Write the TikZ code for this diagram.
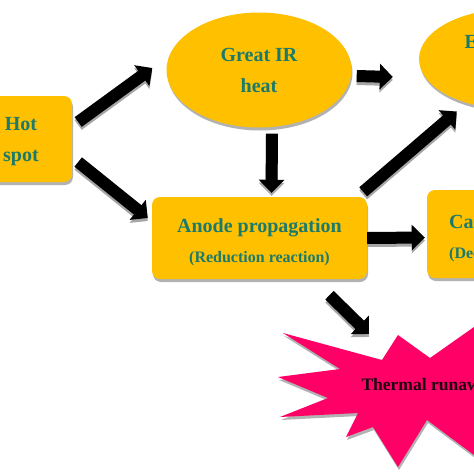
\documentclass[tikz,border=0pt]{standalone}
\usepackage{fontspec}
\setmainfont{Liberation Serif}
\definecolor{hotgold}{HTML}{FFC000}
\definecolor{heatteal}{HTML}{1B7A6A}
\definecolor{burstpink}{HTML}{FF0066}
\definecolor{burstink}{HTML}{1E0010}
\usetikzlibrary{shapes,arrows.meta,positioning,calc,shadows}

\newcommand{\bigtxt}{\fontsize{20}{31}\selectfont\bfseries}
\newcommand{\smalltxt}{\fontsize{16}{18}\selectfont\bfseries}
\newcommand{\fatarrow}[2]{%
  \draw[arrowshade] #1 -- #2;
  \draw[arrowbody] #1 -- #2;}

\begin{document}
\begin{tikzpicture}[x=1pt,y=-1pt,
  stepshade/.style={drop shadow={shadow xshift=1pt,shadow yshift=-3pt,opacity=1,fill=black!30}},
  goldbox/.style={rectangle, rounded corners=8pt, fill=hotgold, stepshade, text=heatteal, font=\bigtxt, align=center},
  goldoval/.style={ellipse, fill=hotgold, stepshade, text=heatteal, font=\bigtxt, align=center, inner sep=0pt},
  boxtext/.style={text=heatteal, font=\bigtxt, inner sep=0pt},
  arrowbody/.style={black, line width=12pt, -{Triangle[width=25pt,length=13pt]}},
  arrowshade/.style={black!35, line width=12pt, -{Triangle[width=25pt,length=13pt]}, transform canvas={yshift=-3pt}}]
\useasboundingbox (0,0) rectangle (474,474);
\clip (0,0) rectangle (474,474);

% Boxes and ovals
\node[goldbox, minimum width=102pt, minimum height=86pt, text depth=-1.7pt] (hotspot) at (21,139) {Hot\\spot};
\node[goldoval, minimum width=185pt, minimum height=115pt] (greatir) at (259,70) {Great IR\\heat};
\node[goldoval, minimum width=184pt, minimum height=100pt] (electro) at (511,59) {Electrolyte\\Burning};
\node[goldbox, minimum width=215pt, minimum height=82pt] (anode) at (259.5,238) {};
\node[boxtext, align=center] (anodetext) at (259.5,242.5)
  {Anode propagation\\[-1pt]{\smalltxt (Reduction reaction)}};
\node[goldbox, minimum width=174pt, minimum height=88pt] (cathode) at (514,234) {};
\node[boxtext, align=left, anchor=west] (cathodetext) at (449,238.5)
  {Cathode\\[-1pt]{\smalltxt (Decomposition)}};

% Thermal runaway burst
\fill[burstpink, stepshade] (398,335) -- (430,358) -- (474,327) -- (520,360) -- (520,450) -- (474,455)
  -- (427,420) -- (398,467) -- (373,427) -- (346,437) -- (358,413) -- (280,417) -- (328,398)
  -- (278,377) -- (340,369) -- (283,333) -- (382,360) -- cycle;
\node[anchor=west, font=\fontsize{17.5}{20}\selectfont\bfseries, text=burstink] (runaway) at (358,386) {Thermal runaway};
\coordinate (bursttip) at (369,334);

% Arrows
\fatarrow{([xshift=6pt,yshift=17pt]hotspot.east)}{([xshift=-14pt,yshift=2pt]greatir.west)}
\fatarrow{([xshift=6pt,yshift=-23pt]hotspot.east)}{([xshift=-4pt,yshift=20pt]anode.west)}
\fatarrow{([xshift=13pt,yshift=-6pt]greatir.south)}{([xshift=12pt,yshift=4pt]anode.north)}
\fatarrow{([xshift=5pt,yshift=-6pt]greatir.east)}{([xshift=-26pt,yshift=-18pt]electro.west)}
\fatarrow{([xshift=-4pt,yshift=5pt]anode.north east)}{([xshift=11pt,yshift=-17pt]electro.south west)}
\fatarrow{([yshift=0pt]anode.east)}{([xshift=-2pt,yshift=-3.5pt]cathode.west)}
\fatarrow{([xshift=70pt,yshift=-16pt]anode.south)}{(bursttip)}
\end{tikzpicture}
\end{document}
